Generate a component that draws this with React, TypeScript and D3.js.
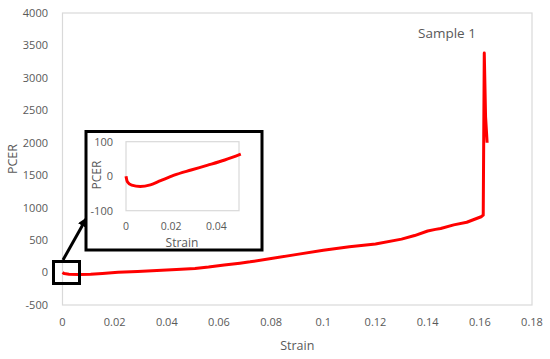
import { useEffect, useRef } from "react";
import * as d3 from "d3";

// Strain vs PCER
const strain = [
  0, 0.0006, 0.0025, 0.0063, 0.0108, 0.0153, 0.0213, 0.0288, 0.0362, 0.0437,
  0.0508, 0.056, 0.062, 0.068, 0.0719, 0.08, 0.09, 0.1, 0.11, 0.12, 0.13,
  0.135, 0.14, 0.143, 0.145, 0.15, 0.155, 0.1605, 0.1613, 0.1617, 0.1622,
  0.1628,
];
const pcer = [
  0, -16, -26, -30, -25, -13, 3, 18, 32, 47, 64, 85, 115, 145, 165, 215, 280,
  345, 398, 440, 515, 570, 640, 665, 680, 735, 775, 860, 885, 3385, 2400, 2000,
];

const xTicks = [0, 0.02, 0.04, 0.06, 0.08, 0.1, 0.12, 0.14, 0.16, 0.18];
const yTicks = [-500, 0, 500, 1000, 1500, 2000, 2500, 3000, 3500, 4000];
const insetXTicks = [0, 0.02, 0.04];
const insetYTicks = [-100, 0, 100];

const W = 550;
const H = 359;
const PLOT = { left: 62.5, right: 532, top: 13, bottom: 305 };
const INSET = { left: 126, right: 239, top: 141.7, bottom: 210.7 };
const FONT = "'Open Sans', 'Liberation Sans', sans-serif";
const GRAY_TEXT = "#595959";
const GRAY_LINE = "#d9d9d9";

interface Pt {
  x: number;
  y: number;
}

export default function App() {
  const svgRef = useRef<SVGSVGElement>(null);

  useEffect(() => {
    if (!svgRef.current) return;
    const svg = d3.select(svgRef.current);
    svg.selectAll("*").remove();

    const pts: Pt[] = strain.map((s, i) => ({ x: s, y: pcer[i] }));

    const x = d3.scaleLinear().domain([0, 0.18]).range([PLOT.left, PLOT.right]);
    const y = d3.scaleLinear().domain([-500, 4000]).range([PLOT.bottom, PLOT.top]);

    // Plot frame
    svg
      .append("rect")
      .attr("x", PLOT.left)
      .attr("y", PLOT.top)
      .attr("width", PLOT.right - PLOT.left)
      .attr("height", PLOT.bottom - PLOT.top)
      .attr("fill", "none")
      .attr("stroke", GRAY_LINE)
      .attr("stroke-width", 1.2);

    // Y tick labels
    svg
      .append("g")
      .selectAll("text")
      .data(yTicks)
      .join("text")
      .attr("x", 48)
      .attr("y", (d) => y(d))
      .attr("dy", "0.35em")
      .attr("text-anchor", "end")
      .attr("font-family", FONT)
      .attr("font-size", 11)
      .attr("fill", GRAY_TEXT)
      .text((d) => String(d));

    // X tick labels
    svg
      .append("g")
      .selectAll("text")
      .data(xTicks)
      .join("text")
      .attr("x", (d) => x(d))
      .attr("y", 326)
      .attr("text-anchor", "middle")
      .attr("font-family", FONT)
      .attr("font-size", 11)
      .attr("fill", GRAY_TEXT)
      .text((d) => String(d));

    // Axis titles
    svg
      .append("text")
      .attr("x", (PLOT.left + PLOT.right) / 2)
      .attr("y", 350)
      .attr("text-anchor", "middle")
      .attr("font-family", FONT)
      .attr("font-size", 12.5)
      .attr("fill", GRAY_TEXT)
      .text("Strain");

    svg
      .append("text")
      .attr("transform", `translate(13,${(PLOT.top + PLOT.bottom) / 2}) rotate(-90)`)
      .attr("text-anchor", "middle")
      .attr("dy", "0.35em")
      .attr("font-family", FONT)
      .attr("font-size", 12.5)
      .attr("fill", GRAY_TEXT)
      .text("PCER");

    svg
      .append("text")
      .attr("x", 447)
      .attr("y", 38)
      .attr("text-anchor", "middle")
      .attr("font-family", FONT)
      .attr("font-size", 13.5)
      .attr("fill", GRAY_TEXT)
      .text("Sample 1");

    // Main curve
    const line = d3
      .line<Pt>()
      .x((d) => x(d.x))
      .y((d) => y(d.y));

    svg
      .append("path")
      .datum(pts)
      .attr("d", line)
      .attr("fill", "none")
      .attr("stroke", "#ff0000")
      .attr("stroke-width", 3)
      .attr("stroke-linejoin", "round");

    // Zoom marker square and arrow
    svg
      .append("rect")
      .attr("x", 53.5)
      .attr("y", 261.5)
      .attr("width", 26)
      .attr("height", 22)
      .attr("fill", "none")
      .attr("stroke", "#000")
      .attr("stroke-width", 3);

    svg
      .append("defs")
      .append("marker")
      .attr("id", "arrow")
      .attr("viewBox", "0 0 10 10")
      .attr("refX", 8)
      .attr("refY", 5)
      .attr("markerWidth", 3.2)
      .attr("markerHeight", 3.2)
      .attr("orient", "auto")
      .append("path")
      .attr("d", "M0,0 L10,5 L0,10 z")
      .attr("fill", "#000");

    svg
      .append("line")
      .attr("x1", 63)
      .attr("y1", 260)
      .attr("x2", 86)
      .attr("y2", 219)
      .attr("stroke", "#000")
      .attr("stroke-width", 3)
      .attr("marker-end", "url(#arrow)");

    // Inset frame
    svg
      .append("rect")
      .attr("x", 86)
      .attr("y", 131.5)
      .attr("width", 176)
      .attr("height", 118.5)
      .attr("fill", "#fff")
      .attr("stroke", "#000")
      .attr("stroke-width", 3);

    const xi = d3.scaleLinear().domain([0, 0.05]).range([INSET.left, INSET.right]);
    const yi = d3.scaleLinear().domain([-100, 100]).range([INSET.bottom, INSET.top]);

    svg
      .append("rect")
      .attr("x", INSET.left)
      .attr("y", INSET.top)
      .attr("width", INSET.right - INSET.left)
      .attr("height", INSET.bottom - INSET.top)
      .attr("fill", "none")
      .attr("stroke", GRAY_LINE)
      .attr("stroke-width", 1.2);

    svg
      .append("g")
      .selectAll("text")
      .data(insetYTicks)
      .join("text")
      .attr("x", 113)
      .attr("y", (d) => yi(d))
      .attr("dy", "0.35em")
      .attr("text-anchor", "end")
      .attr("font-family", FONT)
      .attr("font-size", 11)
      .attr("fill", GRAY_TEXT)
      .text((d) => String(d));

    svg
      .append("g")
      .selectAll("text")
      .data(insetXTicks)
      .join("text")
      .attr("x", (d) => xi(d))
      .attr("y", 230)
      .attr("text-anchor", "middle")
      .attr("font-family", FONT)
      .attr("font-size", 10.5)
      .attr("fill", GRAY_TEXT)
      .text((d) => String(d));

    svg
      .append("text")
      .attr("x", 182)
      .attr("y", 246.5)
      .attr("text-anchor", "middle")
      .attr("font-family", FONT)
      .attr("font-size", 12)
      .attr("fill", GRAY_TEXT)
      .text("Strain");

    svg
      .append("text")
      .attr("transform", `translate(97,175) rotate(-90)`)
      .attr("text-anchor", "middle")
      .attr("dy", "0.35em")
      .attr("font-family", FONT)
      .attr("font-size", 12)
      .attr("fill", GRAY_TEXT)
      .text("PCER");

    const insetLine = d3
      .line<Pt>()
      .x((d) => xi(d.x))
      .y((d) => yi(d.y));

    svg
      .append("path")
      .datum(pts.filter((p) => p.x <= 0.051))
      .attr("d", insetLine.curve(d3.curveMonotoneX))
      .attr("fill", "none")
      .attr("stroke", "#ff0000")
      .attr("stroke-width", 3);
  }, []);

  return (
    <svg
      ref={svgRef}
      width={W}
      height={H}
      style={{ position: "absolute", left: 0, top: 0, background: "#fff" }}
    />
  );
}
